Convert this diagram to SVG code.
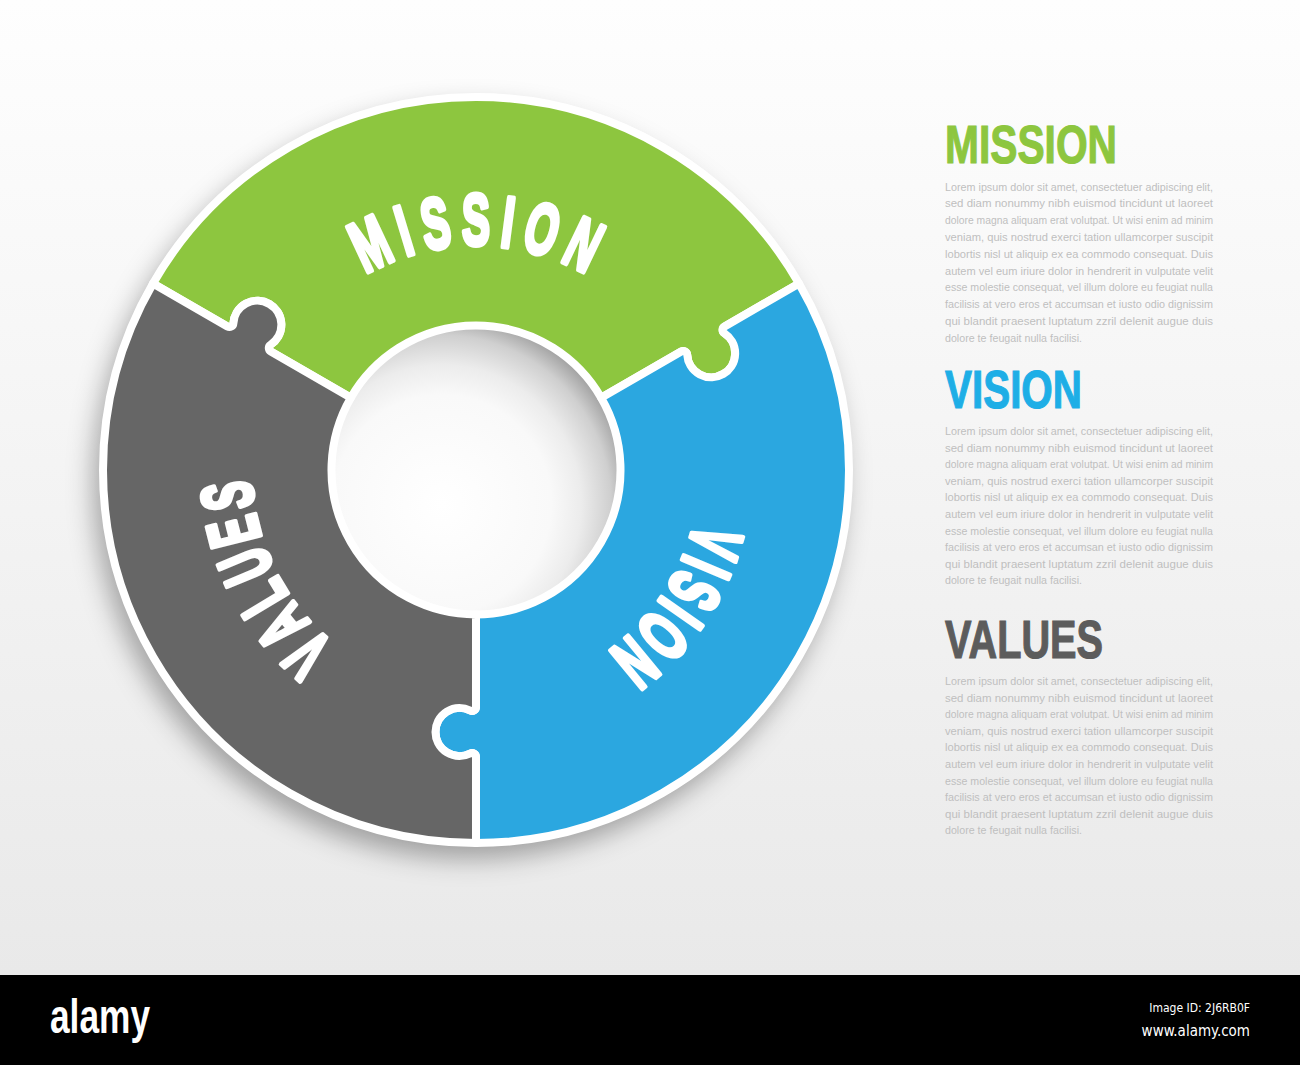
<svg xmlns="http://www.w3.org/2000/svg" xmlns:xlink="http://www.w3.org/1999/xlink" width="1300" height="1065" viewBox="0 0 1300 1065">
<style>
.para{font-family:"Liberation Sans",Arial,sans-serif;font-size:11.5px;fill:#bfbfbf}
.head{font-family:"Liberation Sans",Arial,sans-serif;font-weight:bold;font-size:54px;stroke-width:1.2}
.lt{font-family:"Liberation Sans",Arial,sans-serif;font-weight:bold;font-size:72px;fill:#ffffff;stroke:#ffffff;stroke-width:5;stroke-linejoin:round;text-anchor:middle}
.seg{stroke:#ffffff;stroke-width:8;stroke-linejoin:round}
.foot{font-family:"DejaVu Sans Condensed","DejaVu Sans",sans-serif;font-stretch:condensed;fill:#ffffff}
</style>
<defs>
<linearGradient id="bg" x1="0" y1="0" x2="0" y2="1">
<stop offset="0" stop-color="#fefefe"/>
<stop offset="1" stop-color="#e9e9e9"/>
</linearGradient>
<radialGradient id="holeGrad" cx="0.38" cy="0.62" r="0.7">
<stop offset="0" stop-color="#ffffff"/>
<stop offset="0.55" stop-color="#f9f9f9"/>
<stop offset="0.7" stop-color="#ececec"/>
<stop offset="0.85" stop-color="#cfcfcf"/>
<stop offset="1" stop-color="#8e8e8e"/>
</radialGradient>
<filter id="shadow" x="-20%" y="-20%" width="140%" height="140%">
<feDropShadow dx="-7" dy="13" stdDeviation="13" flood-color="#000000" flood-opacity="0.32"/>
</filter>
<path id="seg" class="seg" d="M -125.14,-72.25 L -205.20,-118.48 A 4 4 0 0 1 -205.41,-125.28 A 24 24 0 1 0 -242.60,-146.75 A 4 4 0 0 1 -248.59,-143.53 L -323.03,-186.5 A 373 373 0 0 1 323.03,-186.5 L 248.59,-143.53 A 4 4 0 0 0 248.39,-136.72 A 24 24 0 1 1 211.20,-115.25 A 4 4 0 0 0 205.20,-118.48 L 125.14,-72.25 A 144.5 144.5 0 0 0 -125.14,-72.25 Z"/>
</defs>

<rect x="0" y="0" width="1300" height="975" fill="url(#bg)"/>

<g id="ring-base">
<circle cx="476" cy="470" r="376" fill="#ffffff" filter="url(#shadow)"/>
<circle cx="476" cy="470" r="142" fill="url(#holeGrad)"/>
</g>

<g id="node-mission" transform="translate(476,470)">
<use href="#seg" fill="#8dc63f"/>
<text class="lt" transform="rotate(-25.03) translate(0,-225) scale(0.58,1)">M</text>
<text class="lt" transform="rotate(-16.78) translate(0,-225) scale(0.58,1)">I</text>
<text class="lt" transform="rotate(-9.35) translate(0,-225) scale(0.58,1)">S</text>
<text class="lt" transform="rotate(-0.01) translate(0,-225) scale(0.58,1)">S</text>
<text class="lt" transform="rotate(7.42) translate(0,-225) scale(0.58,1)">I</text>
<text class="lt" transform="rotate(15.40) translate(0,-225) scale(0.58,1)">O</text>
<text class="lt" transform="rotate(25.56) translate(0,-225) scale(0.58,1)">N</text>
</g>
<g id="node-vision" transform="translate(476,470) rotate(120)">
<use href="#seg" fill="#2ba7e0"/>
<text class="lt" transform="rotate(-13.2) translate(0,-225) scale(0.58,1)">V</text>
<text class="lt" transform="rotate(-7.1) translate(0,-225) scale(0.58,1)">I</text>
<text class="lt" transform="rotate(-1.03) translate(0,-225) scale(0.58,1)">S</text>
<text class="lt" transform="rotate(5.0) translate(0,-225) scale(0.58,1)">I</text>
<text class="lt" transform="rotate(11.6) translate(0,-225) scale(0.58,1)">O</text>
<text class="lt" transform="rotate(20.4) translate(0,-225) scale(0.58,1)">N</text>
</g>
<g id="node-values" transform="translate(476,470) rotate(240)">
<use href="#seg" fill="#666666"/>
<text class="lt" transform="rotate(-17.60) translate(0,-225) scale(0.58,1)">V</text>
<text class="lt" transform="rotate(-9.05) translate(0,-225) scale(0.58,1)">A</text>
<text class="lt" transform="rotate(-0.91) translate(0,-225) scale(0.58,1)">L</text>
<text class="lt" transform="rotate(7.30) translate(0,-225) scale(0.58,1)">U</text>
<text class="lt" transform="rotate(15.80) translate(0,-225) scale(0.58,1)">E</text>
<text class="lt" transform="rotate(24.00) translate(0,-225) scale(0.58,1)">S</text>
</g>

<g id="connectors"></g>

<g id="text-mission">
<text class="head" x="945" y="163" fill="#8dc63f" stroke="#8dc63f" textLength="172" lengthAdjust="spacingAndGlyphs">MISSION</text>
<text class="para" x="945" y="190.5" textLength="268" lengthAdjust="spacingAndGlyphs">Lorem ipsum dolor sit amet, consectetuer adipiscing elit,</text>
<text class="para" x="945" y="207.3" textLength="268" lengthAdjust="spacingAndGlyphs">sed diam nonummy nibh euismod tincidunt ut laoreet</text>
<text class="para" x="945" y="224.1" textLength="268" lengthAdjust="spacingAndGlyphs">dolore magna aliquam erat volutpat. Ut wisi enim ad minim</text>
<text class="para" x="945" y="240.9" textLength="268" lengthAdjust="spacingAndGlyphs">veniam, quis nostrud exerci tation ullamcorper suscipit</text>
<text class="para" x="945" y="257.7" textLength="268" lengthAdjust="spacingAndGlyphs">lobortis nisl ut aliquip ex ea commodo consequat. Duis</text>
<text class="para" x="945" y="274.5" textLength="268" lengthAdjust="spacingAndGlyphs">autem vel eum iriure dolor in hendrerit in vulputate velit</text>
<text class="para" x="945" y="291.3" textLength="268" lengthAdjust="spacingAndGlyphs">esse molestie consequat, vel illum dolore eu feugiat nulla</text>
<text class="para" x="945" y="308.1" textLength="268" lengthAdjust="spacingAndGlyphs">facilisis at vero eros et accumsan et iusto odio dignissim</text>
<text class="para" x="945" y="324.9" textLength="268" lengthAdjust="spacingAndGlyphs">qui blandit praesent luptatum zzril delenit augue duis</text>
<text class="para" x="945" y="341.7" textLength="137" lengthAdjust="spacingAndGlyphs">dolore te feugait nulla facilisi.</text>
</g>

<g id="text-vision">
<text class="head" x="945" y="408" fill="#1eaee6" stroke="#1eaee6" textLength="137" lengthAdjust="spacingAndGlyphs">VISION</text>
<text class="para" x="945" y="435" textLength="268" lengthAdjust="spacingAndGlyphs">Lorem ipsum dolor sit amet, consectetuer adipiscing elit,</text>
<text class="para" x="945" y="451.6" textLength="268" lengthAdjust="spacingAndGlyphs">sed diam nonummy nibh euismod tincidunt ut laoreet</text>
<text class="para" x="945" y="468.2" textLength="268" lengthAdjust="spacingAndGlyphs">dolore magna aliquam erat volutpat. Ut wisi enim ad minim</text>
<text class="para" x="945" y="484.8" textLength="268" lengthAdjust="spacingAndGlyphs">veniam, quis nostrud exerci tation ullamcorper suscipit</text>
<text class="para" x="945" y="501.4" textLength="268" lengthAdjust="spacingAndGlyphs">lobortis nisl ut aliquip ex ea commodo consequat. Duis</text>
<text class="para" x="945" y="518" textLength="268" lengthAdjust="spacingAndGlyphs">autem vel eum iriure dolor in hendrerit in vulputate velit</text>
<text class="para" x="945" y="534.6" textLength="268" lengthAdjust="spacingAndGlyphs">esse molestie consequat, vel illum dolore eu feugiat nulla</text>
<text class="para" x="945" y="551.2" textLength="268" lengthAdjust="spacingAndGlyphs">facilisis at vero eros et accumsan et iusto odio dignissim</text>
<text class="para" x="945" y="567.8" textLength="268" lengthAdjust="spacingAndGlyphs">qui blandit praesent luptatum zzril delenit augue duis</text>
<text class="para" x="945" y="584.4" textLength="137" lengthAdjust="spacingAndGlyphs">dolore te feugait nulla facilisi.</text>
</g>

<g id="text-values">
<text class="head" x="945" y="658" fill="#5c5c5c" stroke="#5c5c5c" textLength="158" lengthAdjust="spacingAndGlyphs">VALUES</text>
<text class="para" x="945" y="685" textLength="268" lengthAdjust="spacingAndGlyphs">Lorem ipsum dolor sit amet, consectetuer adipiscing elit,</text>
<text class="para" x="945" y="701.6" textLength="268" lengthAdjust="spacingAndGlyphs">sed diam nonummy nibh euismod tincidunt ut laoreet</text>
<text class="para" x="945" y="718.2" textLength="268" lengthAdjust="spacingAndGlyphs">dolore magna aliquam erat volutpat. Ut wisi enim ad minim</text>
<text class="para" x="945" y="734.8" textLength="268" lengthAdjust="spacingAndGlyphs">veniam, quis nostrud exerci tation ullamcorper suscipit</text>
<text class="para" x="945" y="751.4" textLength="268" lengthAdjust="spacingAndGlyphs">lobortis nisl ut aliquip ex ea commodo consequat. Duis</text>
<text class="para" x="945" y="768" textLength="268" lengthAdjust="spacingAndGlyphs">autem vel eum iriure dolor in hendrerit in vulputate velit</text>
<text class="para" x="945" y="784.6" textLength="268" lengthAdjust="spacingAndGlyphs">esse molestie consequat, vel illum dolore eu feugiat nulla</text>
<text class="para" x="945" y="801.2" textLength="268" lengthAdjust="spacingAndGlyphs">facilisis at vero eros et accumsan et iusto odio dignissim</text>
<text class="para" x="945" y="817.8" textLength="268" lengthAdjust="spacingAndGlyphs">qui blandit praesent luptatum zzril delenit augue duis</text>
<text class="para" x="945" y="834.4" textLength="137" lengthAdjust="spacingAndGlyphs">dolore te feugait nulla facilisi.</text>
</g>

<g id="footer">
<rect x="0" y="975" width="1300" height="90" fill="#000000"/>
<text x="50" y="1033" font-family="Liberation Sans, Arial, sans-serif" font-weight="bold" font-size="48" fill="#ffffff" textLength="100" lengthAdjust="spacingAndGlyphs">alamy</text>
<text class="foot" x="1250" y="1012" font-size="12" text-anchor="end">Image ID: 2J6RB0F</text>
<text class="foot" x="1250" y="1036" font-size="15" text-anchor="end">www.alamy.com</text>
</g>
</svg>
